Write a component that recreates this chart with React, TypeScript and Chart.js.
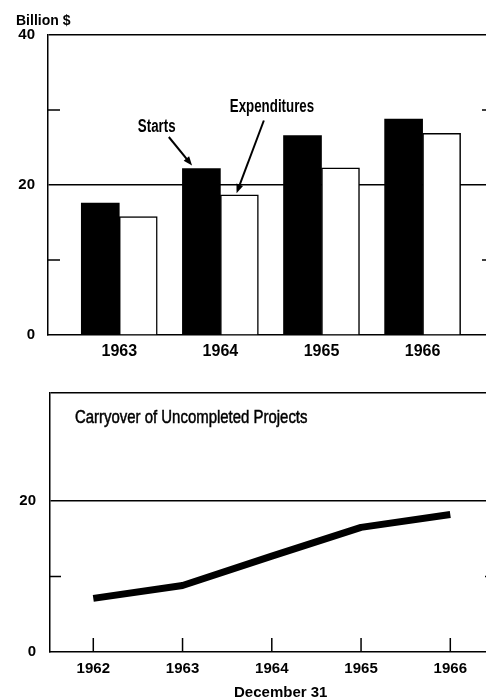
import React, { useEffect, useRef } from 'react';
import { Chart, registerables } from 'chart.js';

Chart.register(...registerables);

// ---- data (billion $) ----
const barYears = [1963, 1964, 1965, 1966];
const starts = [17.6, 22.2, 26.6, 28.8];
const expenditures = [15.8, 18.7, 22.3, 26.9];
const topYTicks = [0, 10, 20, 30, 40];
const topYLabelled = [0, 20, 40];
const topYMinorMarks = [10, 30];
const topYGrid = [20, 40];

const lineYears = [1962, 1963, 1964, 1965, 1966];
const carryover = [7.1, 8.8, 12.7, 16.5, 18.2];
const bottomYMax = 34.3;
const bottomYTicks = [0, 10, 20, bottomYMax];
const bottomYLabelled = [0, 20];
const bottomYMinorMarks = [10];
const bottomYGrid = [20, bottomYMax];

// annotation anchors in data units
const startsNote = { text: 'Starts', x: 1963.37, y: 27.1, from: [1963.49, 26.4], to: [1963.72, 22.6] };
const expNote = { text: 'Expenditures', x: 1964.51, y: 29.7, from: [1964.43, 28.6], to: [1964.16, 18.9] };
const carryNote = { text: 'Carryover of Uncompleted Projects', x: 1961.795, y: 30.3 };
const xTitle = { text: 'December 31', x: 1964.1 };
const unitLabel = 'Billion $';

const SANS = '"Liberation Sans", Arial, sans-serif';

function condensedText(
  ctx: CanvasRenderingContext2D,
  text: string,
  x: number,
  y: number,
  squeeze: number,
  embolden = 0
) {
  ctx.save();
  ctx.translate(x, y);
  ctx.scale(squeeze, 1);
  ctx.fillText(text, 0, 0);
  if (embolden > 0) {
    ctx.lineWidth = embolden;
    ctx.strokeStyle = '#000';
    ctx.strokeText(text, 0, 0);
  }
  ctx.restore();
}

function drawArrow(ctx: CanvasRenderingContext2D, x1: number, y1: number, x2: number, y2: number) {
  const a = Math.atan2(y2 - y1, x2 - x1);
  const L = 9, W = 3.5;
  ctx.save();
  ctx.strokeStyle = '#000';
  ctx.fillStyle = '#000';
  ctx.lineWidth = 2;
  ctx.beginPath();
  ctx.moveTo(x1, y1);
  ctx.lineTo(x2 - (L - 2) * Math.cos(a), y2 - (L - 2) * Math.sin(a));
  ctx.stroke();
  ctx.beginPath();
  ctx.moveTo(x2, y2);
  ctx.lineTo(x2 - L * Math.cos(a) + W * Math.sin(a), y2 - L * Math.sin(a) - W * Math.cos(a));
  ctx.lineTo(x2 - L * Math.cos(a) - W * Math.sin(a), y2 - L * Math.sin(a) + W * Math.cos(a));
  ctx.closePath();
  ctx.fill();
  ctx.restore();
}

function minorMarks(chart: any, values: number[], len: number) {
  const { ctx, chartArea } = chart;
  const y = chart.scales.y;
  ctx.save();
  ctx.strokeStyle = '#000';
  ctx.lineWidth = 1.3;
  values.forEach((v) => {
    const py = y.getPixelForValue(v);
    ctx.beginPath();
    ctx.moveTo(chartArea.left, py);
    ctx.lineTo(chartArea.left + len, py);
    ctx.moveTo(chartArea.right - len, py);
    ctx.lineTo(chartArea.right, py);
    ctx.stroke();
  });
  ctx.restore();
}

const topPlugin = {
  id: 'topDecor',
  afterDraw(chart: any) {
    const { ctx, chartArea } = chart;
    const x = chart.scales.x, y = chart.scales.y;
    minorMarks(chart, topYMinorMarks, 12);
    ctx.save();
    ctx.fillStyle = '#000';
    ctx.font = `bold 14px ${SANS}`;
    ctx.textAlign = 'left';
    ctx.textBaseline = 'alphabetic';
    ctx.fillText(unitLabel, chartArea.left - 32, chartArea.top - 10);
    ctx.font = `bold 18px ${SANS}`;
    ctx.textAlign = 'center';
    [startsNote, expNote].forEach((n) => {
      condensedText(ctx, n.text, x.getPixelForValue(n.x), y.getPixelForValue(n.y), 0.74);
      drawArrow(ctx, x.getPixelForValue(n.from[0]), y.getPixelForValue(n.from[1]),
        x.getPixelForValue(n.to[0]), y.getPixelForValue(n.to[1]));
    });
    ctx.restore();
  },
};

const bottomPlugin = {
  id: 'bottomDecor',
  afterDraw(chart: any) {
    const { ctx, chartArea } = chart;
    const x = chart.scales.x, y = chart.scales.y;
    minorMarks(chart, bottomYMinorMarks, 11);
    ctx.save();
    ctx.strokeStyle = '#000';
    ctx.lineWidth = 1.5;
    lineYears.forEach((v) => {
      const px = x.getPixelForValue(v);
      ctx.beginPath();
      ctx.moveTo(px, chartArea.bottom);
      ctx.lineTo(px, chartArea.bottom - 14);
      ctx.stroke();
    });
    ctx.fillStyle = '#000';
    ctx.font = `18px ${SANS}`;
    ctx.textAlign = 'left';
    ctx.textBaseline = 'alphabetic';
    condensedText(ctx, carryNote.text, x.getPixelForValue(carryNote.x), y.getPixelForValue(carryNote.y), 0.83, 0.5);
    ctx.font = `bold 15px ${SANS}`;
    ctx.textAlign = 'center';
    ctx.textBaseline = 'middle';
    ctx.fillText(xTitle.text, x.getPixelForValue(xTitle.x), chartArea.bottom + 41);
    ctx.restore();
  },
};

function TopChart() {
  const ref = useRef<HTMLCanvasElement>(null);
  useEffect(() => {
    const chart = new Chart(ref.current!, {
      type: 'bar',
      data: {
        datasets: [
          {
            label: 'Starts',
            data: barYears.map((yr, i) => ({ x: yr, y: starts[i] })),
            backgroundColor: '#000',
            borderColor: '#000',
            borderWidth: 0,
            barThickness: 38,
          },
          {
            label: 'Expenditures',
            data: barYears.map((yr, i) => ({ x: yr, y: expenditures[i] })),
            backgroundColor: '#fff',
            borderColor: '#000',
            borderWidth: 1.5,
            barThickness: 38,
          },
        ],
      },
      options: {
        responsive: false,
        maintainAspectRatio: false,
        animation: false,
        devicePixelRatio: 1,
        layout: { padding: { top: 35, left: 0, right: 6, bottom: 0 } },
        plugins: { legend: { display: false }, tooltip: { enabled: false } },
        scales: {
          x: {
            type: 'linear',
            offset: false,
            min: 1962.295,
            max: 1966.706,
            grid: { display: false, drawTicks: false, offset: false },
            border: { display: true, color: '#000', width: 1.5 },
            afterBuildTicks: (s: any) => { s.ticks = barYears.map((v) => ({ value: v })); },
            afterFit: (s: any) => { s.height = 30; },
            ticks: {
              color: '#000',
              padding: 7,
              autoSkip: false,
              maxRotation: 0,
              font: { family: SANS, size: 16, weight: 'bold' },
              callback: (v: any) => String(v),
            },
          },
          y: {
            type: 'linear',
            min: 0,
            max: 40,
            grid: {
              drawTicks: false,
              lineWidth: 1.4,
              color: (c: any) => (c.tick && topYGrid.includes(c.tick.value) ? '#000' : 'rgba(0,0,0,0)'),
            },
            border: { display: true, color: '#000', width: 1.5 },
            afterBuildTicks: (s: any) => { s.ticks = topYTicks.map((v) => ({ value: v })); },
            afterFit: (s: any) => { s.width = 48; },
            ticks: {
              color: '#000',
              padding: 13,
              font: { family: SANS, size: 15, weight: 'bold' },
              callback: (v: any) => (topYLabelled.includes(v) ? String(v) : ''),
            },
          },
        },
      } as any,
      plugins: [topPlugin],
    });
    return () => chart.destroy();
  }, []);
  return (
    <canvas
      ref={ref}
      width={500}
      height={365}
      style={{ position: 'absolute', left: 0, top: 0, width: 500, height: 365, display: 'block' }}
    />
  );
}

function BottomChart() {
  const ref = useRef<HTMLCanvasElement>(null);
  useEffect(() => {
    const chart = new Chart(ref.current!, {
      type: 'line',
      data: {
        datasets: [
          {
            label: 'Carryover of Uncompleted Projects',
            data: lineYears.map((yr, i) => ({ x: yr, y: carryover[i] })),
            borderColor: '#000',
            borderWidth: 7,
            pointRadius: 0,
            tension: 0,
            borderCapStyle: 'butt',
            borderJoinStyle: 'round',
            fill: false,
          },
        ],
      },
      options: {
        responsive: false,
        maintainAspectRatio: false,
        animation: false,
        devicePixelRatio: 1,
        layout: { padding: { top: 15, left: 0, right: 4, bottom: 0 } },
        plugins: { legend: { display: false }, tooltip: { enabled: false } },
        scales: {
          x: {
            type: 'linear',
            offset: false,
            min: 1961.515,
            max: 1966.512,
            grid: { display: false, drawTicks: false },
            border: { display: true, color: '#000', width: 1.5 },
            afterBuildTicks: (s: any) => { s.ticks = lineYears.map((v) => ({ value: v })); },
            afterFit: (s: any) => { s.height = 46; },
            ticks: {
              color: '#000',
              padding: 8,
              autoSkip: false,
              maxRotation: 0,
              font: { family: SANS, size: 15, weight: 'bold' },
              callback: (v: any) => String(v),
            },
          },
          y: {
            type: 'linear',
            min: 0,
            max: bottomYMax,
            grid: {
              drawTicks: false,
              lineWidth: 1.4,
              color: (c: any) => (c.tick && bottomYGrid.includes(c.tick.value) ? '#000' : 'rgba(0,0,0,0)'),
            },
            border: { display: true, color: '#000', width: 1.5 },
            afterBuildTicks: (s: any) => { s.ticks = bottomYTicks.map((v) => ({ value: v })); },
            afterFit: (s: any) => { s.width = 50; },
            ticks: {
              color: '#000',
              padding: 14,
              font: { family: SANS, size: 15, weight: 'bold' },
              callback: (v: any) => (bottomYLabelled.includes(v) ? String(v) : ''),
            },
          },
        },
      } as any,
      plugins: [bottomPlugin],
    });
    return () => chart.destroy();
  }, []);
  return (
    <canvas
      ref={ref}
      width={500}
      height={328}
      style={{ position: 'absolute', left: 0, top: 370, width: 500, height: 328, display: 'block' }}
    />
  );
}

export default function App() {
  return (
    <div
      style={{
        position: 'absolute',
        left: 0,
        top: 0,
        width: 486,
        height: 698,
        overflow: 'hidden',
        background: '#fff',
      }}
    >
      <TopChart />
      <BottomChart />
    </div>
  );
}
